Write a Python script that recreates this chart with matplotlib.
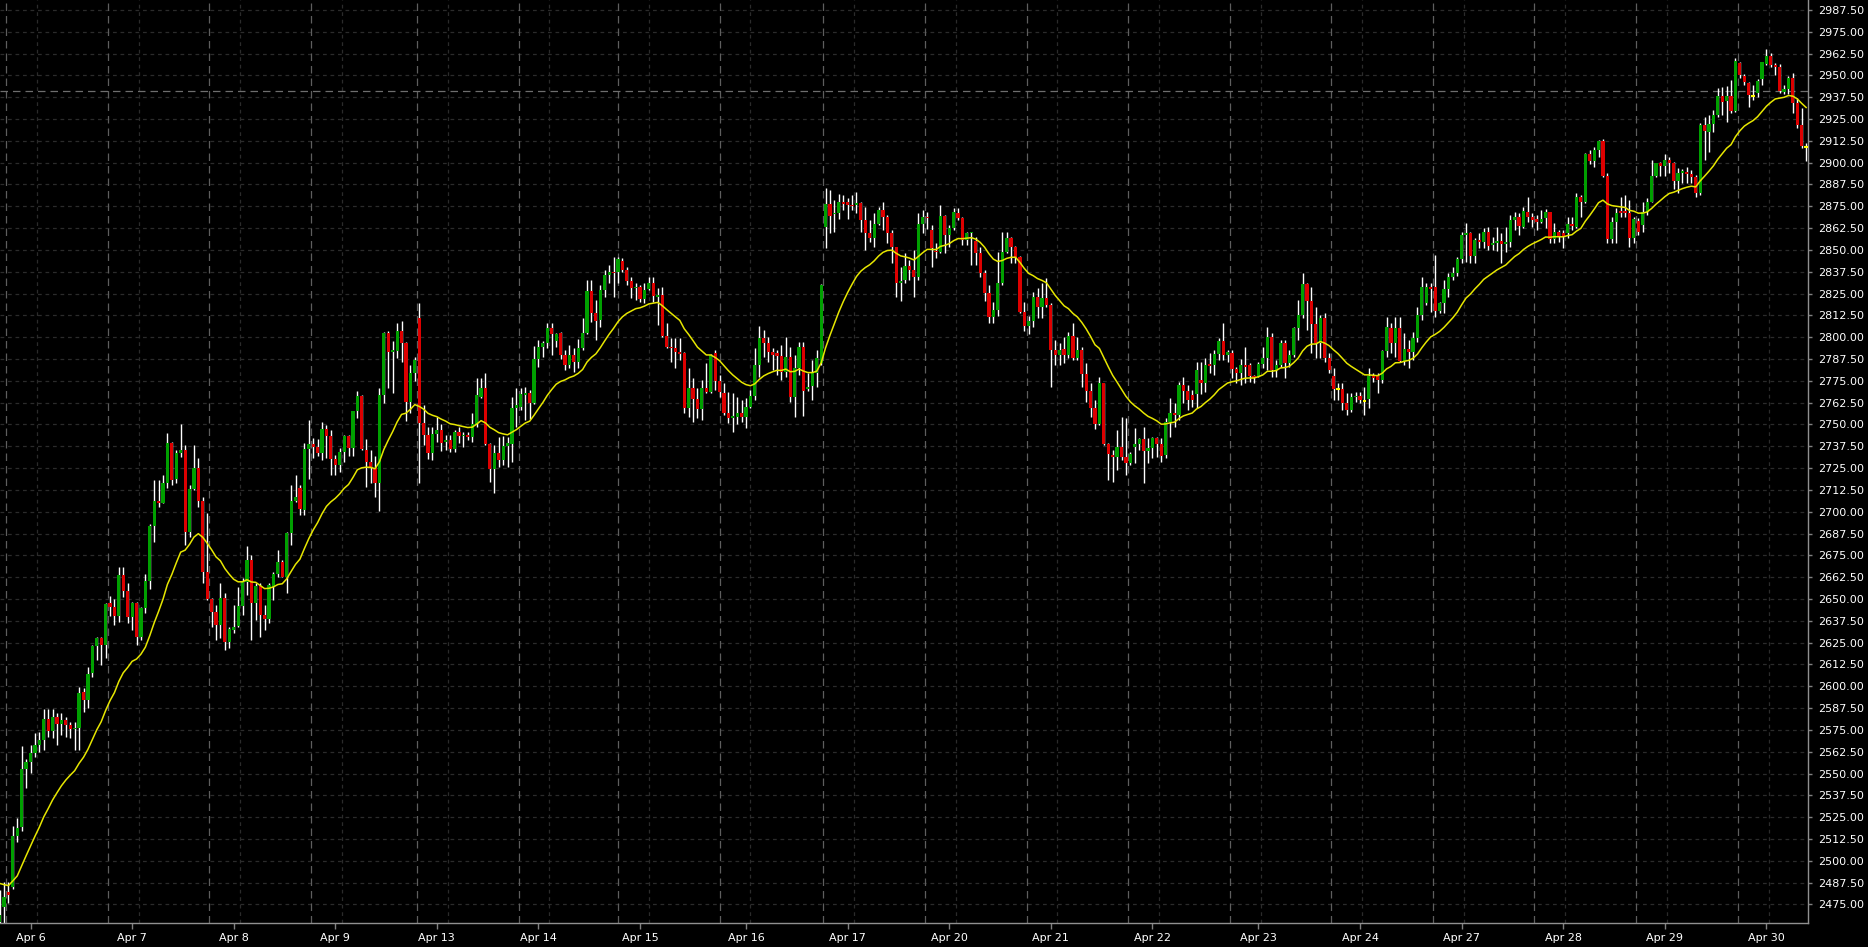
import numpy as np
import pandas as pd
import matplotlib
matplotlib.use('Agg')
import matplotlib.pyplot as plt

# hourly bars (first bar is cut by the left edge)
opens = [
    2465.0, 2473.8, 2482.3, 2485.2, 2514.0, 2519.2, 2552.7, 2556.9, 2562.0, 2566.4,
    2569.3, 2581.3, 2574.6, 2582.2, 2578.4, 2580.7, 2577.9, 2575.4, 2576.0, 2597.0,
    2592.2, 2607.5, 2623.1, 2627.5, 2623.7, 2647.6, 2645.3, 2640.0, 2663.8, 2654.8,
    2639.5, 2647.9, 2628.1, 2644.7, 2660.4, 2691.9, 2706.2, 2705.2, 2716.3, 2739.2,
    2718.6, 2733.5, 2735.4, 2688.6, 2712.9, 2724.9, 2706.2, 2665.7, 2649.9, 2642.8,
    2635.2, 2650.4, 2625.6, 2632.3, 2634.6, 2646.1, 2660.0, 2672.4, 2647.6, 2657.5,
    2640.9, 2638.6, 2657.1, 2664.4, 2671.4, 2662.9, 2687.7, 2706.2, 2713.4, 2701.0,
    2735.8, 2738.8, 2737.0, 2733.9, 2747.2, 2743.4, 2730.2, 2726.8, 2734.5, 2743.4,
    2736.7, 2757.7, 2766.3, 2735.4, 2728.7, 2724.9, 2716.7, 2766.9, 2802.6, 2791.7,
    2792.3, 2803.6, 2796.9, 2763.1, 2779.7, 2810.8, 2750.7, 2744.0, 2733.5, 2744.6,
    2746.9, 2740.0, 2741.2, 2736.0, 2745.9, 2743.4, 2743.9, 2743.0, 2750.3, 2766.0,
    2771.1, 2738.8, 2724.3, 2733.5, 2729.7, 2737.9, 2738.8, 2759.3, 2760.2, 2766.9,
    2767.9, 2762.1, 2787.5, 2794.6, 2796.5, 2805.5, 2798.0, 2802.3, 2789.8, 2784.1,
    2789.8, 2786.0, 2793.7, 2802.6, 2826.7, 2813.7, 2809.9, 2827.1, 2835.6, 2837.6,
    2837.6, 2843.9, 2838.5, 2832.4, 2828.0, 2828.6, 2821.7, 2827.6, 2830.9, 2823.2,
    2824.2, 2800.9, 2794.6, 2793.6, 2791.7, 2790.8, 2759.3, 2770.7, 2764.4, 2758.7,
    2770.7, 2768.8, 2790.8, 2775.1, 2768.2, 2756.8, 2754.0, 2754.1, 2756.8, 2754.5,
    2759.8, 2766.3, 2784.1, 2799.7, 2796.9, 2791.7, 2790.8, 2789.2, 2780.3, 2788.9,
    2766.0, 2782.2, 2794.6, 2770.2, 2772.1, 2779.7, 2785.4, 2863.3, 2876.3, 2870.4,
    2871.4, 2877.7, 2877.3, 2876.0, 2876.0, 2876.9, 2867.2, 2859.5, 2856.7, 2864.7,
    2872.9, 2868.7, 2859.9, 2851.5, 2831.3, 2832.8, 2840.8, 2838.5, 2834.3, 2864.9,
    2869.1, 2861.4, 2849.6, 2849.0, 2869.4, 2858.6, 2862.4, 2871.4, 2868.1, 2855.7,
    2859.5, 2855.3, 2848.1, 2837.0, 2825.1, 2811.8, 2815.6, 2830.9, 2849.0, 2856.7,
    2851.9, 2845.8, 2814.6, 2806.4, 2809.5, 2823.2, 2817.5, 2822.7, 2818.4, 2792.7,
    2789.8, 2793.1, 2789.8, 2800.7, 2787.9, 2792.7, 2778.9, 2769.2, 2759.3, 2750.3,
    2773.6, 2738.8, 2732.5, 2731.2, 2737.3, 2731.6, 2727.8, 2737.3, 2738.8, 2741.5,
    2735.0, 2736.4, 2742.1, 2738.8, 2732.5, 2751.6, 2756.8, 2755.4, 2772.6, 2769.4,
    2767.0, 2767.5, 2775.5, 2773.6, 2784.5, 2784.1, 2790.3, 2797.9, 2789.8, 2790.8,
    2781.7, 2779.4, 2784.1, 2784.1, 2777.8, 2777.8, 2784.5, 2788.0, 2800.0, 2781.3,
    2784.1, 2796.9, 2785.1, 2789.9, 2805.5, 2812.8, 2830.5, 2820.8, 2807.6, 2796.9,
    2810.9, 2788.0, 2777.5, 2770.2, 2770.2, 2762.2, 2758.4, 2765.6, 2766.4, 2763.7,
    2764.5, 2777.8, 2777.5, 2775.5, 2792.3, 2805.1, 2796.9, 2805.1, 2786.6, 2793.1,
    2791.8, 2799.4, 2812.8, 2819.8, 2828.6, 2829.0, 2815.3, 2819.4, 2827.5, 2834.7,
    2837.0, 2844.7, 2858.6, 2859.6, 2846.6, 2855.7, 2854.8, 2860.5, 2852.9, 2854.2,
    2855.3, 2853.4, 2854.8, 2867.2, 2868.7, 2863.3, 2871.7, 2869.1, 2867.7, 2866.2,
    2868.1, 2871.7, 2856.1, 2860.1, 2859.5, 2859.5, 2864.9, 2863.3, 2880.1, 2877.5,
    2905.0, 2901.2, 2907.3, 2912.6, 2892.4, 2856.1, 2866.2, 2872.5, 2872.5, 2871.4,
    2856.7, 2866.8, 2864.3, 2871.6, 2877.7, 2892.4, 2899.6, 2898.3, 2901.5, 2899.6,
    2889.7, 2893.9, 2894.8, 2893.5, 2892.0, 2882.4, 2921.6, 2917.8, 2922.2, 2927.3,
    2938.2, 2935.5, 2938.2, 2929.8, 2956.9, 2949.7, 2945.5, 2938.4, 2939.7, 2947.8,
    2956.5, 2961.1, 2956.0, 2955.0, 2940.7, 2942.0, 2948.3, 2934.0, 2921.6, 2909.2,
]
highs = [
    2483.5, 2488.1, 2488.0, 2520.0, 2524.4, 2565.8, 2558.2, 2566.4, 2573.0, 2574.0,
    2586.8, 2586.8, 2586.8, 2584.5, 2584.5, 2582.6, 2579.8, 2579.8, 2599.8, 2598.9,
    2611.3, 2623.7, 2628.5, 2628.5, 2648.0, 2651.8, 2649.9, 2668.6, 2668.6, 2659.0,
    2648.5, 2648.5, 2645.7, 2664.4, 2693.0, 2718.2, 2718.2, 2721.0, 2745.3, 2740.2,
    2735.4, 2750.3, 2738.3, 2715.4, 2738.3, 2730.6, 2708.7, 2699.1, 2650.5, 2646.6,
    2659.4, 2653.3, 2634.0, 2646.6, 2657.1, 2661.9, 2680.4, 2675.3, 2659.0, 2659.0,
    2646.6, 2659.0, 2665.7, 2678.1, 2672.4, 2688.6, 2715.4, 2721.0, 2715.4, 2739.2,
    2752.6, 2742.0, 2741.5, 2751.6, 2749.7, 2746.9, 2732.5, 2736.4, 2744.0, 2744.0,
    2758.0, 2769.2, 2766.9, 2741.5, 2735.4, 2732.0, 2770.7, 2803.2, 2803.8, 2798.0,
    2808.0, 2809.3, 2797.5, 2784.1, 2788.9, 2819.8, 2761.2, 2748.8, 2748.8, 2754.5,
    2750.3, 2744.0, 2744.0, 2746.9, 2748.8, 2745.9, 2745.9, 2756.8, 2776.5, 2776.5,
    2779.3, 2739.2, 2738.3, 2743.0, 2743.4, 2743.0, 2765.6, 2770.7, 2771.1, 2771.7,
    2769.8, 2795.0, 2798.4, 2798.0, 2808.0, 2808.0, 2802.3, 2803.2, 2792.7, 2795.6,
    2793.7, 2798.8, 2810.8, 2833.0, 2833.0, 2821.3, 2830.0, 2838.5, 2841.4, 2845.8,
    2845.8, 2845.2, 2840.4, 2834.7, 2830.9, 2829.9, 2830.9, 2834.7, 2834.7, 2828.0,
    2829.0, 2808.0, 2799.4, 2799.4, 2799.4, 2791.7, 2782.2, 2776.5, 2770.7, 2775.5,
    2785.0, 2790.5, 2792.7, 2778.4, 2773.6, 2768.8, 2768.2, 2766.0, 2764.0, 2765.0,
    2769.8, 2793.7, 2806.4, 2804.1, 2800.3, 2793.6, 2792.7, 2795.6, 2800.3, 2794.6,
    2789.8, 2797.5, 2797.5, 2779.3, 2787.0, 2792.7, 2830.5, 2885.3, 2884.3, 2878.6,
    2882.0, 2881.5, 2879.6, 2881.5, 2883.4, 2877.7, 2874.8, 2867.2, 2871.0, 2874.8,
    2877.7, 2870.0, 2861.4, 2851.9, 2840.4, 2848.1, 2844.2, 2850.0, 2871.0, 2872.9,
    2872.0, 2864.3, 2853.8, 2875.7, 2870.0, 2864.3, 2873.8, 2873.8, 2868.6, 2860.5,
    2860.3, 2857.6, 2851.9, 2838.5, 2829.9, 2820.4, 2849.0, 2860.5, 2860.5, 2857.6,
    2852.3, 2846.5, 2820.4, 2812.0, 2826.1, 2828.0, 2830.9, 2833.7, 2819.4, 2798.4,
    2796.5, 2800.3, 2803.2, 2808.0, 2800.3, 2794.6, 2785.0, 2773.6, 2764.0, 2777.4,
    2774.0, 2739.2, 2735.4, 2746.9, 2754.5, 2753.5, 2734.5, 2747.8, 2742.1, 2748.8,
    2742.1, 2743.0, 2743.0, 2742.1, 2753.5, 2765.0, 2762.1, 2774.5, 2777.4, 2772.6,
    2770.0, 2786.0, 2786.0, 2787.9, 2790.8, 2792.7, 2799.4, 2808.0, 2792.7, 2792.7,
    2783.2, 2787.4, 2794.6, 2785.1, 2778.4, 2786.0, 2794.6, 2806.1, 2802.3, 2787.0,
    2798.4, 2798.4, 2792.7, 2806.1, 2821.4, 2837.0, 2830.9, 2829.0, 2817.5, 2812.8,
    2813.7, 2790.8, 2782.2, 2773.6, 2773.6, 2767.9, 2768.3, 2768.8, 2768.8, 2771.7,
    2782.2, 2779.4, 2779.4, 2792.7, 2811.8, 2808.0, 2811.8, 2811.5, 2802.3, 2798.4,
    2803.2, 2817.5, 2834.7, 2831.0, 2831.0, 2847.2, 2820.4, 2832.8, 2836.6, 2840.5,
    2846.2, 2860.5, 2865.3, 2860.5, 2856.7, 2859.6, 2862.4, 2863.4, 2857.7, 2863.4,
    2859.5, 2863.3, 2870.0, 2871.9, 2871.0, 2874.4, 2880.5, 2871.0, 2870.0, 2872.9,
    2873.3, 2871.7, 2865.3, 2861.4, 2861.4, 2869.1, 2869.1, 2882.4, 2881.5, 2905.7,
    2907.3, 2909.2, 2913.0, 2913.4, 2893.9, 2869.1, 2873.8, 2880.5, 2881.5, 2878.6,
    2869.1, 2868.1, 2877.6, 2879.6, 2901.5, 2900.0, 2900.6, 2905.0, 2903.4, 2900.6,
    2896.8, 2896.2, 2897.7, 2895.8, 2892.9, 2922.5, 2926.4, 2927.3, 2930.2, 2942.6,
    2943.5, 2944.1, 2947.4, 2959.8, 2957.9, 2950.8, 2946.4, 2944.5, 2947.8, 2957.9,
    2964.9, 2962.6, 2956.9, 2956.5, 2944.5, 2949.7, 2951.2, 2936.9, 2931.1, 2911.1,
]
lows = [
    2464.4, 2464.5, 2476.0, 2484.0, 2511.0, 2517.3, 2541.6, 2550.6, 2559.3, 2562.6,
    2563.6, 2571.2, 2570.2, 2566.4, 2572.1, 2571.2, 2570.2, 2563.5, 2563.5, 2585.5,
    2587.4, 2605.6, 2615.1, 2612.2, 2616.0, 2640.0, 2635.2, 2637.1, 2651.4, 2636.5,
    2632.3, 2623.7, 2626.6, 2642.0, 2655.6, 2682.9, 2703.0, 2704.9, 2713.5, 2715.4,
    2716.3, 2731.6, 2681.0, 2685.8, 2712.5, 2703.0, 2659.0, 2649.5, 2634.2, 2626.6,
    2627.5, 2620.8, 2622.0, 2630.4, 2634.2, 2640.9, 2652.3, 2626.6, 2638.0, 2628.5,
    2632.3, 2636.1, 2649.5, 2662.9, 2662.5, 2653.3, 2681.0, 2705.5, 2698.2, 2698.2,
    2718.8, 2731.0, 2732.0, 2729.7, 2730.6, 2721.1, 2721.1, 2723.0, 2728.7, 2732.0,
    2732.0, 2753.5, 2735.4, 2714.4, 2716.3, 2708.7, 2700.6, 2762.5, 2770.7, 2767.9,
    2787.9, 2786.0, 2752.2, 2756.8, 2775.1, 2716.7, 2738.3, 2730.1, 2729.7, 2740.2,
    2735.0, 2735.4, 2734.5, 2734.5, 2739.2, 2737.3, 2741.0, 2740.2, 2748.8, 2765.0,
    2738.0, 2717.3, 2711.0, 2725.9, 2726.8, 2725.9, 2728.7, 2748.8, 2758.3, 2752.6,
    2753.0, 2761.5, 2783.1, 2788.9, 2793.7, 2789.8, 2794.6, 2787.3, 2781.2, 2782.2,
    2780.3, 2782.2, 2792.7, 2802.0, 2808.9, 2798.4, 2806.0, 2823.2, 2830.9, 2823.2,
    2830.9, 2837.5, 2829.9, 2822.3, 2821.3, 2820.4, 2819.4, 2827.0, 2820.4, 2807.0,
    2800.3, 2793.6, 2786.0, 2782.2, 2787.0, 2756.4, 2754.5, 2751.6, 2753.5, 2752.6,
    2768.0, 2768.0, 2769.8, 2765.9, 2755.4, 2750.7, 2745.9, 2750.3, 2751.6, 2747.8,
    2759.3, 2764.0, 2777.4, 2788.9, 2786.0, 2781.2, 2778.4, 2775.5, 2777.4, 2763.1,
    2754.5, 2778.4, 2754.9, 2769.0, 2764.0, 2771.7, 2784.0, 2850.9, 2859.9, 2860.5,
    2867.5, 2872.9, 2867.5, 2872.9, 2871.0, 2860.5, 2850.0, 2854.7, 2851.9, 2864.3,
    2861.4, 2853.8, 2842.3, 2822.8, 2820.9, 2830.9, 2832.8, 2823.2, 2832.8, 2859.5,
    2862.0, 2840.4, 2845.2, 2848.0, 2848.1, 2851.9, 2861.4, 2867.2, 2852.8, 2852.8,
    2841.4, 2841.4, 2834.7, 2820.9, 2808.0, 2808.0, 2812.2, 2829.9, 2848.0, 2842.3,
    2842.3, 2813.7, 2803.7, 2801.6, 2806.0, 2810.8, 2810.8, 2817.5, 2771.7, 2784.1,
    2784.1, 2785.0, 2787.9, 2787.0, 2787.0, 2771.7, 2763.1, 2754.5, 2747.2, 2749.7,
    2738.3, 2718.2, 2717.3, 2723.9, 2729.7, 2721.1, 2726.8, 2727.8, 2735.4, 2716.3,
    2727.8, 2730.6, 2731.6, 2728.7, 2730.6, 2743.0, 2748.8, 2752.6, 2762.1, 2758.3,
    2760.0, 2759.3, 2767.5, 2768.8, 2779.3, 2778.4, 2787.0, 2787.0, 2786.0, 2776.5,
    2773.6, 2772.7, 2773.6, 2774.6, 2773.6, 2777.4, 2782.2, 2781.3, 2777.4, 2777.4,
    2783.2, 2776.5, 2783.2, 2788.9, 2798.4, 2810.9, 2804.2, 2790.8, 2787.9, 2787.9,
    2786.0, 2779.4, 2764.1, 2764.1, 2758.4, 2755.5, 2757.4, 2763.1, 2762.2, 2755.5,
    2759.3, 2774.6, 2767.9, 2773.6, 2788.9, 2790.8, 2788.9, 2786.0, 2784.1, 2782.2,
    2787.0, 2797.5, 2809.9, 2818.5, 2814.7, 2811.8, 2813.7, 2813.7, 2823.3, 2832.8,
    2835.1, 2842.8, 2843.3, 2842.4, 2842.4, 2851.0, 2851.0, 2850.0, 2850.0, 2849.6,
    2842.3, 2849.0, 2851.9, 2861.4, 2858.6, 2862.4, 2866.2, 2863.3, 2861.4, 2865.3,
    2862.4, 2854.2, 2853.8, 2854.8, 2850.9, 2856.7, 2861.4, 2862.4, 2869.1, 2876.7,
    2899.2, 2897.7, 2903.4, 2892.0, 2854.2, 2854.2, 2854.2, 2869.1, 2869.1, 2851.5,
    2854.2, 2858.6, 2860.5, 2870.0, 2877.7, 2892.0, 2892.4, 2892.4, 2893.9, 2884.7,
    2882.8, 2888.5, 2888.5, 2888.5, 2880.5, 2881.5, 2901.5, 2906.3, 2917.8, 2926.4,
    2927.3, 2923.5, 2928.3, 2929.2, 2948.3, 2944.5, 2932.1, 2935.9, 2937.8, 2944.5,
    2955.9, 2955.0, 2950.2, 2939.7, 2939.4, 2939.4, 2928.3, 2919.7, 2908.2, 2901.1,
]
closes = [
    2469.0, 2479.5, 2480.5, 2514.2, 2518.6, 2552.7, 2556.9, 2562.0, 2566.4, 2569.3,
    2581.3, 2574.6, 2582.2, 2578.4, 2580.7, 2577.9, 2575.4, 2576.0, 2596.0, 2592.2,
    2607.1, 2623.1, 2627.5, 2623.7, 2647.2, 2645.7, 2640.0, 2663.8, 2654.8, 2639.5,
    2647.9, 2628.1, 2644.7, 2660.4, 2691.9, 2706.2, 2705.2, 2716.3, 2739.2, 2718.2,
    2733.5, 2735.4, 2688.6, 2712.9, 2724.9, 2706.2, 2665.7, 2649.9, 2642.8, 2635.2,
    2650.4, 2625.6, 2632.7, 2634.2, 2646.1, 2660.0, 2672.4, 2647.6, 2657.5, 2640.9,
    2638.6, 2658.1, 2664.4, 2671.4, 2662.9, 2687.7, 2706.2, 2708.7, 2701.4, 2735.8,
    2738.8, 2737.0, 2733.9, 2747.2, 2743.4, 2730.2, 2726.8, 2734.5, 2743.4, 2736.7,
    2757.7, 2766.3, 2735.8, 2728.7, 2724.9, 2716.7, 2766.9, 2802.6, 2791.7, 2792.7,
    2803.6, 2796.9, 2763.1, 2779.7, 2787.0, 2750.7, 2744.0, 2733.5, 2744.6, 2746.9,
    2739.6, 2741.2, 2736.0, 2745.9, 2743.4, 2743.9, 2742.7, 2750.3, 2766.9, 2771.1,
    2738.8, 2724.3, 2733.5, 2729.7, 2737.9, 2739.2, 2759.3, 2761.2, 2767.5, 2768.3,
    2762.1, 2787.5, 2794.6, 2796.5, 2805.5, 2801.7, 2801.9, 2789.8, 2784.1, 2789.8,
    2786.0, 2793.7, 2802.6, 2826.7, 2813.7, 2809.5, 2827.1, 2835.6, 2837.6, 2837.3,
    2844.6, 2838.5, 2832.4, 2828.0, 2829.0, 2821.7, 2827.1, 2830.9, 2823.6, 2824.2,
    2800.9, 2794.6, 2793.6, 2791.7, 2790.4, 2759.3, 2770.7, 2764.4, 2758.7, 2770.7,
    2768.8, 2789.8, 2775.1, 2768.8, 2756.8, 2753.5, 2754.8, 2756.8, 2754.1, 2759.8,
    2766.3, 2784.1, 2799.7, 2796.9, 2791.7, 2789.8, 2789.2, 2780.3, 2788.9, 2766.0,
    2782.2, 2794.6, 2769.4, 2771.7, 2779.7, 2788.0, 2829.9, 2876.3, 2869.6, 2871.4,
    2877.7, 2876.3, 2875.7, 2875.2, 2876.9, 2867.2, 2859.5, 2856.7, 2864.7, 2872.9,
    2868.7, 2859.9, 2851.5, 2831.3, 2832.4, 2840.8, 2838.5, 2834.3, 2864.9, 2869.1,
    2868.1, 2850.9, 2848.6, 2869.4, 2858.6, 2862.4, 2871.9, 2868.1, 2855.7, 2859.5,
    2859.9, 2848.1, 2837.0, 2825.1, 2811.8, 2815.6, 2830.9, 2849.0, 2856.7, 2851.9,
    2846.2, 2814.6, 2806.4, 2809.5, 2823.2, 2817.5, 2822.7, 2818.4, 2792.7, 2789.8,
    2792.7, 2789.8, 2800.7, 2787.9, 2792.7, 2778.9, 2769.2, 2759.3, 2750.3, 2773.6,
    2738.8, 2733.1, 2731.2, 2737.3, 2731.6, 2727.8, 2733.1, 2738.8, 2741.5, 2735.0,
    2736.4, 2742.1, 2738.8, 2732.0, 2751.6, 2756.8, 2755.4, 2772.6, 2769.4, 2764.0,
    2764.0, 2781.2, 2773.6, 2784.1, 2783.5, 2790.3, 2797.9, 2789.8, 2791.7, 2781.7,
    2779.4, 2784.1, 2783.2, 2777.8, 2776.5, 2784.5, 2788.0, 2800.0, 2781.3, 2784.1,
    2796.9, 2785.1, 2789.9, 2805.5, 2812.8, 2830.5, 2820.8, 2807.6, 2796.9, 2810.9,
    2788.0, 2781.3, 2770.2, 2770.2, 2762.2, 2758.4, 2766.0, 2766.4, 2764.1, 2763.7,
    2777.8, 2776.5, 2775.5, 2792.3, 2805.7, 2796.9, 2805.1, 2786.6, 2793.1, 2791.8,
    2799.4, 2812.8, 2829.0, 2828.6, 2827.5, 2815.3, 2819.4, 2827.5, 2834.7, 2837.0,
    2844.7, 2858.6, 2859.6, 2846.6, 2855.7, 2854.8, 2860.5, 2852.3, 2854.2, 2855.4,
    2853.4, 2854.8, 2867.2, 2868.7, 2863.7, 2872.5, 2869.1, 2867.2, 2866.2, 2867.7,
    2871.5, 2856.1, 2860.5, 2857.2, 2857.2, 2864.9, 2863.7, 2880.1, 2877.5, 2905.0,
    2901.2, 2907.3, 2912.6, 2892.4, 2856.1, 2866.2, 2871.4, 2871.4, 2871.4, 2856.7,
    2867.5, 2860.5, 2871.6, 2877.7, 2892.4, 2899.6, 2898.3, 2901.5, 2900.0, 2889.7,
    2893.9, 2895.2, 2893.5, 2892.0, 2882.4, 2921.6, 2918.3, 2922.2, 2927.3, 2938.2,
    2935.0, 2938.2, 2929.8, 2958.4, 2950.2, 2946.4, 2938.8, 2938.4, 2947.0, 2957.5,
    2961.1, 2956.0, 2955.0, 2941.3, 2942.0, 2948.3, 2934.4, 2921.6, 2909.6, 2909.2,
]

date_labels = ['Apr 6', 'Apr 7', 'Apr 8', 'Apr 9', 'Apr 13', 'Apr 14', 'Apr 15', 'Apr 16', 'Apr 17',
               'Apr 20', 'Apr 21', 'Apr 22', 'Apr 23', 'Apr 24', 'Apr 27', 'Apr 28', 'Apr 29', 'Apr 30']
label_bars = [6, 29, 52, 75, 98, 121, 144, 168, 191, 214, 237, 260, 284, 307, 330, 353, 376, 399]
separator_bars = [0.5, 23.5, 46.5, 69.5, 93.5, 116.5, 139, 162, 185.5, 208.5, 231.5, 254.5,
                  277.5, 300.5, 323.5, 346.5, 369.5, 392.5]
ma_start = 2489.0
ma_span = 20
hline_level = 2941.3

o = np.array(opens)
h = np.array(highs)
l = np.array(lows)
c = np.array(closes)
x = np.arange(len(c)) - 1

ma = pd.Series([ma_start] + closes).ewm(span=ma_span, adjust=False).mean().values[1:]

fig = plt.figure(figsize=(18.68, 9.47), dpi=100, facecolor='black')
ax = fig.add_axes([0, 24 / 947, 1808 / 1868, 923 / 947], facecolor='black')

grid_col = '#2b2b2b'
for lev in np.arange(2475, 2988, 12.5):
    ax.axhline(lev, color=grid_col, lw=0.9, dashes=(3, 3), zorder=0)
# dim time grid sits about 7 bars after each day separator
for b in separator_bars:
    ax.axvline(b + 7, color=grid_col, lw=0.9, dashes=(3, 3), zorder=0)
    ax.axvline(b, color='#5e5e5e', lw=0.9, dashes=(6, 4), zorder=0)
ax.axhline(hline_level, color='#6e6e6e', lw=0.9, dashes=(6, 4), zorder=0)

# wicks then bodies
ax.vlines(x, l, h, colors='white', lw=1.0, zorder=2)
up = c > o
dn = c < o
doji = c == o
body = np.where(np.abs(c - o) < 0.7, np.sign(c - o) * 0.7, c - o)
ax.bar(x[up], body[up], bottom=o[up], width=0.72, color='#00a000', lw=0, zorder=3)
ax.bar(x[dn], body[dn], bottom=o[dn], width=0.72, color='#dd0000', lw=0, zorder=3)
ax.hlines(c[doji], x[doji] - 0.4, x[doji] + 0.4, colors='#ffff00', lw=1.5, zorder=3)

ax.plot(x, ma, color='#e6e600', lw=1.1, zorder=4)

ax.set_xlim(-4 / 4.417, 1804 / 4.417)
ax.set_ylim(2464.4, 2993.2)

ax.yaxis.tick_right()
ax.set_yticks(np.arange(2475, 2988, 12.5))
ax.set_yticklabels(['%.2f' % v for v in np.arange(2475, 2988, 12.5)])
ax.set_xticks(label_bars)
ax.set_xticklabels(date_labels)
ax.tick_params(axis='y', colors='#808080', labelcolor='white', length=3, width=1, pad=4, labelsize=8)
ax.tick_params(axis='x', colors='#808080', labelcolor='white', length=4, width=1, pad=3, labelsize=8)

for side in ['top', 'left']:
    ax.spines[side].set_visible(False)
for side in ['right', 'bottom']:
    ax.spines[side].set_color('#909090')
    ax.spines[side].set_linewidth(1)

fig.savefig('out.png', dpi=100, facecolor='black')
